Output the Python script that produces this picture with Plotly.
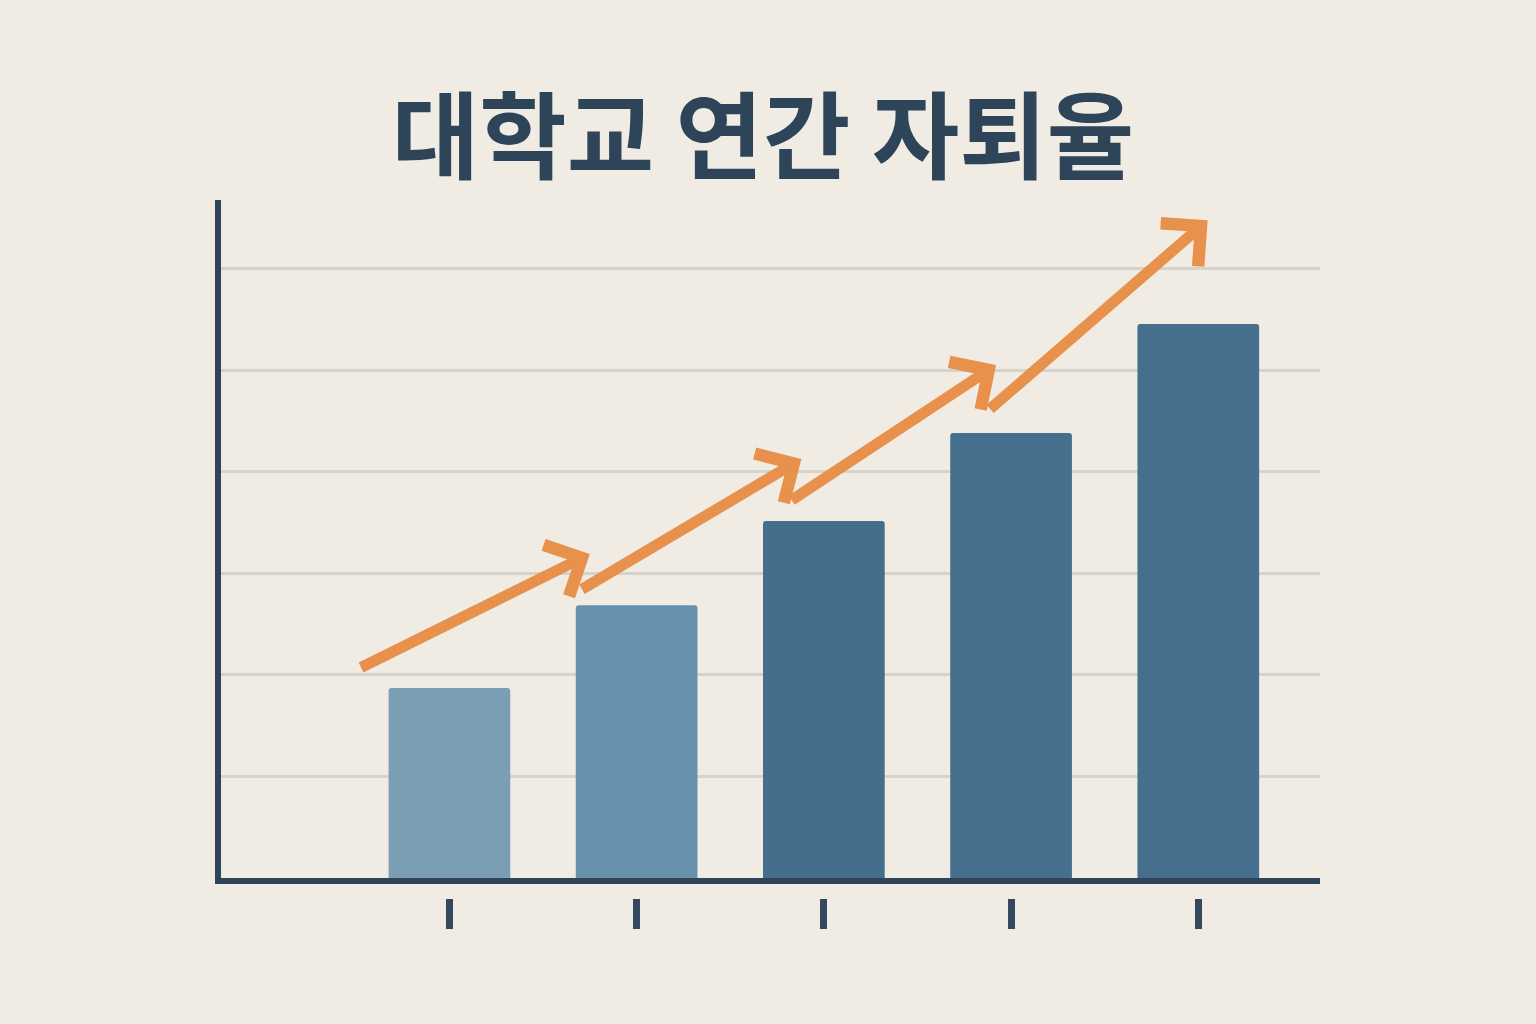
import plotly.graph_objects as go

# ---- data ----
categories = ["2019", "2020", "2021", "2022", "2023"]
dropout_rate = [3.74, 5.37, 7.03, 8.76, 10.91]
bar_colors = ["#7a9eb4", "#6690ab", "#456e8c", "#466f8d", "#456f8d"]

# trend arrow segments (data coords: category index, rate)
arrow_start_x = [-0.48, 0.70, 1.82, 2.88]
arrow_start_y = [4.13, 5.67, 7.42, 9.21]
arrow_tip_x = [0.75, 1.88, 2.92, 4.05]
arrow_tip_y = [6.38, 8.25, 10.10, 12.95]

title_text = "대학교 연간 자퇴율"

BG = "#f1ece3"
DARK = "#2d4459"
ORANGE = "#e8914c"

xpos = list(range(len(categories)))
xr = [-1.22, 4.65]

fig = go.Figure()
fig.add_trace(go.Bar(
    x=xpos, y=dropout_rate, marker=dict(color=bar_colors, line=dict(width=0)),
    width=0.65, showlegend=False, hoverinfo="skip"))
# invisible helper trace so the secondary tick axis is drawn
fig.add_trace(go.Scatter(x=xpos, y=[0]*len(xpos), xaxis="x2", yaxis="y",
                         mode="markers", marker=dict(opacity=0),
                         showlegend=False, hoverinfo="skip"))

for sx, sy, tx, ty in zip(arrow_start_x, arrow_start_y, arrow_tip_x, arrow_tip_y):
    fig.add_annotation(x=tx, y=ty, ax=sx, ay=sy, xref="x", yref="y",
                       axref="x", ayref="y", showarrow=True, text="",
                       arrowhead=4, arrowsize=1.0, arrowwidth=11,
                       arrowcolor=ORANGE, standoff=0, startstandoff=0)

fig.update_layout(
    width=1536, height=1024,
    paper_bgcolor=BG, plot_bgcolor=BG,
    margin=dict(l=221, r=216, t=200, b=90),
    title=dict(text=title_text, x=763/1536, xanchor="center", xref="container",
               y=1 - 139/1024, yref="container", yanchor="middle",
               font=dict(family="Noto Sans CJK KR", size=95, color=DARK, weight="bold")),
    barcornerradius=3,
    xaxis=dict(range=xr, showgrid=False, zeroline=False, showline=True,
               linecolor=DARK, linewidth=6, showticklabels=False, ticks="",
               tickvals=xpos, ticktext=categories),
    xaxis2=dict(range=xr, overlaying="x", anchor="free", position=0.049,
                side="bottom", showgrid=False, zeroline=False, showline=False,
                tickmode="array", tickvals=xpos, ticktext=categories,
                showticklabels=False, ticks="outside", ticklen=30, tickwidth=7,
                tickcolor="#34495e"),
    yaxis=dict(domain=[0.0763, 1], range=[0, 13.35], showgrid=True,
               gridcolor="#d6d3cb", gridwidth=3, tick0=0, dtick=2,
               zeroline=False, showline=True, linecolor=DARK, linewidth=6,
               showticklabels=False, ticks=""),
)

fig.write_html("out.html", config={"displayModeBar": False},
               post_script="document.body.style.margin='0px';")
